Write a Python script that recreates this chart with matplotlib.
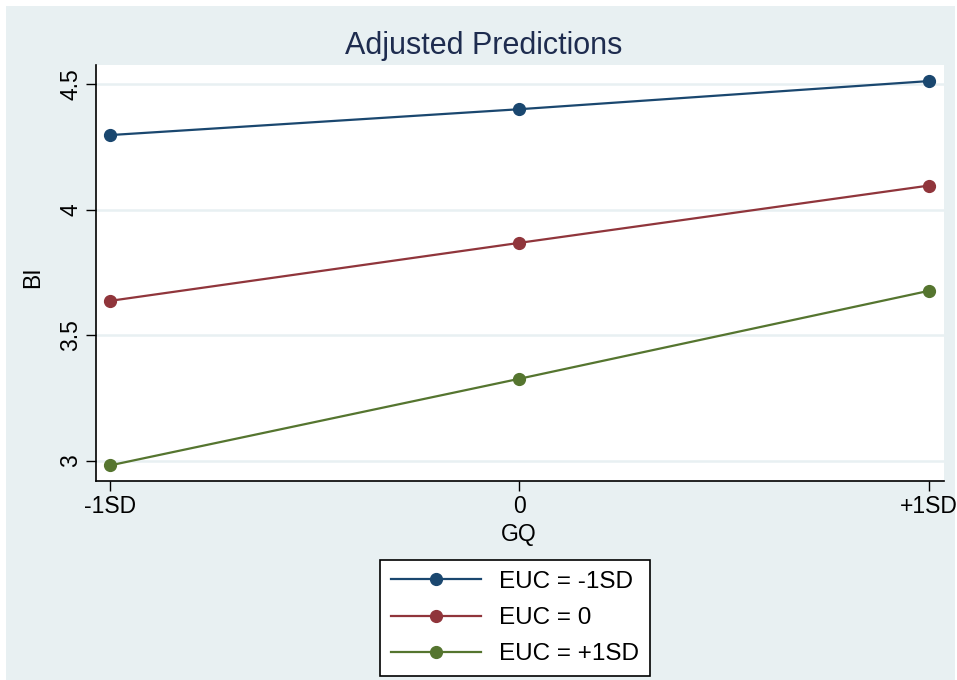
import numpy as np
import matplotlib.pyplot as plt
from matplotlib.patches import Rectangle

plt.rcParams['font.family'] = ['Liberation Sans', 'DejaVu Sans']

# Data
x_labels = ["-1SD", "0", "+1SD"]
euc_labels = ["EUC = -1SD", "EUC = 0", "EUC = +1SD"]
bi_low = [4.297, 4.400, 4.512]
bi_mid = [3.637, 3.868, 4.096]
bi_high = [2.982, 3.327, 3.677]
y_ticks = [3, 3.5, 4, 4.5]
y_tick_labels = ["3", "3.5", "4", "4.5"]

colors = ["#1a476f", "#90353b", "#55752f"]
bg = "#e8f0f2"
W, H = 957, 680

fig = plt.figure(figsize=(W / 100, H / 100), dpi=100, facecolor="white")
fig.patches.append(Rectangle((6 / W, 0), (955 - 6) / W, (680 - 6) / H,
                             transform=fig.transFigure, facecolor=bg,
                             edgecolor="none", zorder=-5))

ax = fig.add_axes([96 / W, 1 - 481 / H, (944 - 96) / W, (481 - 65) / H])
ax.set_facecolor("white")

x = np.arange(len(x_labels))
for series, c, lab in zip([bi_low, bi_mid, bi_high], colors, euc_labels):
    ax.plot(x, series, color=c, lw=1.6, marker="o", markersize=8.5, label=lab,
            zorder=3)

ax.set_xlim(-0.034, 2.037)
ax.set_ylim(2.92, 4.576)
ax.set_xticks(x)
ax.set_xticklabels(x_labels)
ax.set_yticks(y_ticks)
ax.set_yticklabels(y_tick_labels, rotation=90, va="center")
ax.tick_params(axis="both", labelsize=16.5, length=7, width=1, color="black",
               pad=3)
ax.grid(axis="y", color="#e8f0f2", lw=1.8, zorder=1)
ax.set_axisbelow(True)

for s in ["top", "right"]:
    ax.spines[s].set_visible(False)
for s in ["left", "bottom"]:
    ax.spines[s].set_linewidth(1.2)

fig.text(484 / W, 1 - 46 / H, "Adjusted Predictions", fontsize=22,
         color="#1e2c4f", ha="center", va="center")
fig.text(33 / W, 1 - 277 / H, "BI", fontsize=16.5, rotation=90,
         ha="center", va="center")
fig.text(519 / W, 1 - 535 / H, "GQ", fontsize=16.5, ha="center", va="center")

leg = fig.legend(loc="upper left", bbox_to_anchor=(380 / W, 1 - 560 / H),
                 bbox_transform=fig.transFigure, fontsize=17.5, fancybox=False,
                 edgecolor="black", framealpha=1, handlelength=3.7,
                 borderpad=0.45, labelspacing=0.58, handletextpad=0.75,
                 borderaxespad=0)
leg.get_frame().set_linewidth(1.2)

fig.savefig("out.png", dpi=100, facecolor=fig.get_facecolor())
